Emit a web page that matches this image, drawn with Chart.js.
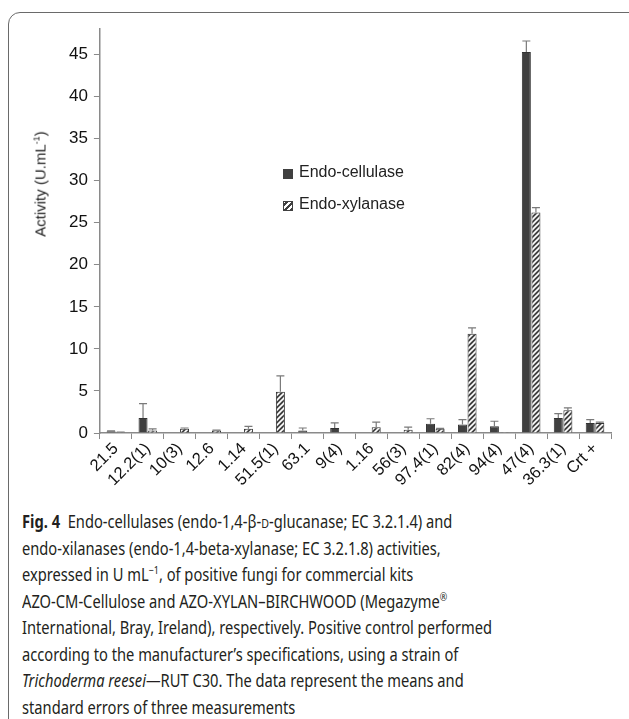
<!DOCTYPE html>
<html>
<head>
<meta charset="utf-8">
<script src="https://cdn.jsdelivr.net/npm/chart.js@4.4.1/dist/chart.umd.min.js"></script>
<style>
  html, body { margin: 0; padding: 0; background: #fff; }
  body { width: 629px; height: 719px; position: relative; overflow: hidden; }
  #card {
    position: absolute; left: 8px; top: 12px; width: 660px; height: 760px;
    border: 1.5px solid #6a6a6a; border-radius: 12px; box-sizing: border-box;
  }
  #wrap { position: absolute; left: 9px; top: 13px; width: 614px; height: 477px; }
  #ytitle {
    position: absolute; left: 40px; top: 184px;
    transform: translate(-50%, -50%) rotate(-90deg);
    font: 15px "Liberation Sans", Arial, sans-serif; color: #222; white-space: nowrap;
  }
  #ytitle sup { font-size: 9px; }
  #legend { position: absolute; left: 283px; top: 163px; font: 16px "Liberation Sans", Arial, sans-serif; color: #222; }
  #legend div { height: 32px; display: flex; align-items: flex-start; }
  #legend span.sw { width: 8px; height: 8px; margin: 6px 6px 0 0; border: 1px solid #404040; }
  .sw.cell { background: #404040; }
  .sw.xyl { background: repeating-linear-gradient(-45deg, #404040 0 2px, #fff 2px 4px); }
  #caption {
    position: absolute; left: 22px; top: 508px; color: #231f20;
    font: 18px "Noto Sans", sans-serif; transform-origin: 0 0;
  }
  #caption div { height: 26.5px; line-height: 26.5px; white-space: nowrap; }
  #caption sup { font-size: 11px; line-height: 0; }
  .sc { font-size: 13px; }
</style>
</head>
<body>
<div id="card"></div>
<div id="wrap"><canvas id="chart" width="614" height="477"></canvas></div>
<div id="ytitle">Activity (U.mL<sup>-1</sup>)</div>
<div id="legend">
  <div><span class="sw cell"></span>Endo-cellulase</div>
  <div><span class="sw xyl"></span>Endo-xylanase</div>
</div>
<div id="caption">
  <div><b>Fig. 4</b>&nbsp; Endo-cellulases (endo-1,4-β-<span class="sc">D</span>-glucanase; EC 3.2.1.4) and</div>
  <div>endo-xilanases (endo-1,4-beta-xylanase; EC 3.2.1.8) activities,</div>
  <div>expressed in U mL<sup>−1</sup>, of positive fungi for commercial kits</div>
  <div>AZO-CM-Cellulose and AZO-XYLAN–BIRCHWOOD (Megazyme<sup>®</sup></div>
  <div>International, Bray, Ireland), respectively. Positive control performed</div>
  <div>according to the manufacturer’s specifications, using a strain of</div>
  <div><i>Trichoderma reesei</i>—RUT C30. The data represent the means and</div>
  <div>standard errors of three measurements</div>
</div>
<script>
// fungi strains (x categories)
const strains = ["21.5", "12.2(1)", "10(3)", "12.6", "1.14", "51.5(1)", "63.1", "9(4)",
  "1.16", "56(3)", "97.4(1)", "82(4)", "94(4)", "47(4)", "36.3(1)", "Crt +"]

// endo-cellulase mean and standard error
const cellulase    = [0.2, 1.8, 0, 0, 0, 0, 0.3, 0.6, 0, 0, 1.1, 1.0, 0.8, 45.3, 1.8, 1.2]
const cellulaseErr = [0.05, 1.7, 0, 0, 0, 0, 0.3, 0.6, 0, 0, 0.6, 0.6, 0.6, 1.3, 0.5, 0.4]

// endo-xylanase mean and standard error
const xylanase    = [0.1, 0.3, 0.5, 0.3, 0.5, 4.9, 0, 0, 0.7, 0.4, 0.5, 11.8, 0.1, 26.2, 2.7, 1.2]
const xylanaseErr = [0.02, 0.2, 0.1, 0.05, 0.3, 1.9, 0, 0, 0.6, 0.3, 0.05, 0.7, 0, 0.6, 0.3, 0.1]

const yTicks = [0, 5, 10, 15, 20, 25, 30, 35, 40, 45]

const dark = "#404040"
const axisGrey = "#8a8a8a"

// diagonal hatch for the xylanase bars
function hatch() {
  const c = document.createElement("canvas")
  c.width = 5; c.height = 5
  const g = c.getContext("2d")
  g.fillStyle = dark
  g.fillRect(0, 0, 5, 5)
  g.strokeStyle = "#fff"
  g.lineWidth = 1.6
  g.beginPath()
  g.moveTo(-1, 6); g.lineTo(6, -1)
  g.moveTo(-1, 1); g.lineTo(1, -1)
  g.moveTo(4, 6); g.lineTo(6, 4)
  g.stroke()
  return g.createPattern(c, "repeat")
}

// plus-only error bars with caps
const errorBars = {
  id: "errorBars",
  afterDatasetsDraw(chart) {
    const ctx = chart.ctx
    const y = chart.scales.y
    ctx.save()
    ctx.strokeStyle = "#7a7a7a"
    ctx.lineWidth = 1.2
    chart.data.datasets.forEach((ds, i) => {
      const meta = chart.getDatasetMeta(i)
      meta.data.forEach((bar, j) => {
        const e = ds.errors[j]
        if (!e) return
        const top = y.getPixelForValue(ds.data[j] + e)
        ctx.beginPath()
        ctx.moveTo(bar.x, bar.y)
        ctx.lineTo(bar.x, top)
        ctx.moveTo(bar.x - 4, top)
        ctx.lineTo(bar.x + 4, top)
        ctx.stroke()
      })
    })
    ctx.restore()
  }
}

new Chart(document.getElementById("chart"), {
  type: "bar",
  data: {
    labels: strains,
    datasets: [
      {
        label: "Endo-cellulase",
        data: cellulase,
        errors: cellulaseErr,
        backgroundColor: dark,
        borderColor: "#333",
        borderWidth: 1
      },
      {
        label: "Endo-xylanase",
        data: xylanase,
        errors: xylanaseErr,
        backgroundColor: hatch(),
        borderColor: "#333",
        borderWidth: 1
      }
    ]
  },
  options: {
    responsive: false,
    animation: false,
    categoryPercentage: 0.6,
    barPercentage: 0.94,
    layout: { padding: { left: 54, top: 14, right: 12, bottom: 0 } },
    plugins: { legend: { display: false }, tooltip: { enabled: false } },
    scales: {
      x: {
        offset: true,
        grid: { offset: true, drawOnChartArea: false, drawTicks: true, tickLength: 6, color: axisGrey },
        border: { color: axisGrey, width: 1.5 },
        ticks: {
          color: "#111", minRotation: 45, maxRotation: 45, autoSkip: false, padding: 0,
          font: { family: "'Liberation Sans', Arial, sans-serif", size: 16.5 }
        }
      },
      y: {
        min: 0,
        max: 48,
        afterBuildTicks: axis => { axis.ticks = yTicks.map(v => ({ value: v })) },
        grid: { drawOnChartArea: false, drawTicks: true, tickLength: 6, color: axisGrey },
        border: { color: axisGrey, width: 1.5 },
        ticks: {
          color: "#111", padding: 6, autoSkip: false,
          font: { family: "'Liberation Sans', Arial, sans-serif", size: 17 }
        }
      }
    }
  },
  plugins: [errorBars]
})

// squeeze caption to the narrow face of the original
const cap = document.getElementById("caption")
const widest = Math.max(...[...cap.children].map(d => {
  const r = document.createRange(); r.selectNodeContents(d); return r.getBoundingClientRect().width
}))
cap.style.transform = `scaleX(${470 / widest})`
</script>
</body>
</html>
